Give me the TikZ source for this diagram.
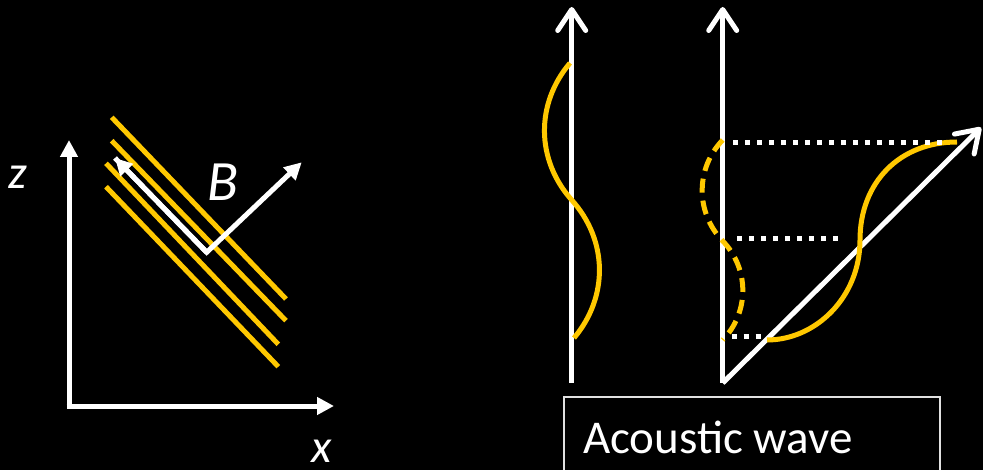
\documentclass[tikz,border=0pt]{standalone}
\usepackage{fontspec}
\setmainfont{Carlito}
\usetikzlibrary{arrows.meta}
\definecolor{wgold}{RGB}{255,200,0}
\definecolor{boxline}{RGB}{225,225,225}
\begin{document}
\begin{tikzpicture}[x=1pt,y=-1pt,
  axisF/.style={white, line width=5pt, -{Triangle[length=17pt,width=17pt]}},
  axisO/.style={white, line width=5pt, -{Straight Barb[length=21pt,width=28pt,round]}},
  plane/.style={wgold, line width=5pt},
  wave/.style={wgold, line width=5pt},
  dwave/.style={wgold, line width=5pt, dash pattern=on 14pt off 8pt},
  proj/.style={white, line width=5pt, dash pattern=on 5pt off 7pt},
  lbl/.style={text=white, inner sep=0pt, font=\fontsize{47}{50}\selectfont\itshape}]
\fill[black] (0,0) rectangle (983,470);
\useasboundingbox (0,0) rectangle (983,470);
\clip (0,0) rectangle (983,470);

% ---------- left panel ----------
\coordinate (O) at (69,406);
\coordinate (ztip) at (69,140);
\coordinate (xtip) at (334,406);
\draw[axisF] ([yshift=2.5pt]O) -- (ztip);
\draw[axisF] ([xshift=-2.5pt]O) -- (xtip);
\node[lbl] (zl) at (18,177) {z};
\node[lbl] (xl) at (322,451) {x};

\coordinate (p1a) at (111.7,117.3); \coordinate (p1b) at (286,299);
\coordinate (p2a) at (111.7,140.7); \coordinate (p2b) at (286,320.7);
\coordinate (p3a) at (106,163.3);   \coordinate (p3b) at (278.3,344.3);
\coordinate (p4a) at (106,186.7);   \coordinate (p4b) at (278.3,366.7);
\draw[plane] (p1a) -- (p1b);
\draw[plane] (p2a) -- (p2b);
\draw[plane] (p3a) -- (p3b);
\draw[plane] (p4a) -- (p4b);

\coordinate (C) at (206.7,252.3);
\coordinate (kt) at (115,158);
\coordinate (bt) at (301.7,162.3);
\draw[axisF, line join=miter] (kt) -- (C) -- (bt);
\draw[axisF] (C) -- (kt);
\node[text=white, inner sep=0pt, font=\fontsize{57}{60}\selectfont\itshape] (Bl) at (223,182) {B};

% ---------- right panel ----------
\coordinate (a1b) at (571.7,383);
\coordinate (a1t) at (571.7,7);
\draw[axisO] (a1b) -- (a1t);
\coordinate (w0) at (570,63);
\coordinate (w1) at (571.7,200);
\coordinate (w2) at (574,338);
\draw[wave] (w0) to[bend right=41] (w1) to[bend left=41] (w2);

\coordinate (a2b) at (722.7,383);
\coordinate (a2t) at (722.7,7);
\coordinate (dtip) at (981,127.5);
\draw[axisO] (a2b) -- (a2t);
\draw[axisO] (a2b) -- (dtip);

\coordinate (v0) at (722.7,140);
\coordinate (v1) at (722.7,241);
\coordinate (v2) at (722.7,340);
\draw[dwave] (v0) to[bend right=44] (v1) to[bend left=44] (v2);

\coordinate (s0) at (957,142);
\coordinate (s1) at (860,240);
\coordinate (s2) at (767,340);
\draw[wave] (s0) .. controls (900,142) and (860,182) .. (s1)
                 .. controls (860,298) and (815,340) .. (s2);

\coordinate (d1a) at (733,142.3); \coordinate (d1b) at (945,142.3);
\coordinate (d2a) at (737,238.7); \coordinate (d2b) at (842,238.7);
\coordinate (d3a) at (731.7,336.7); \coordinate (d3b) at (764,336.7);
\draw[proj] (d1a) -- (d1b);
\draw[proj] (d2a) -- (d2b);
\draw[proj] (d3a) -- (d3b);

\draw[boxline, line width=2pt] (563.5,396.5) rectangle (939.5,490);
\node[text=white, inner sep=0pt, anchor=base west, font=\fontsize{47}{50}\selectfont] (ac) at (583,453) {Acoustic wave};
\end{tikzpicture}
\end{document}
